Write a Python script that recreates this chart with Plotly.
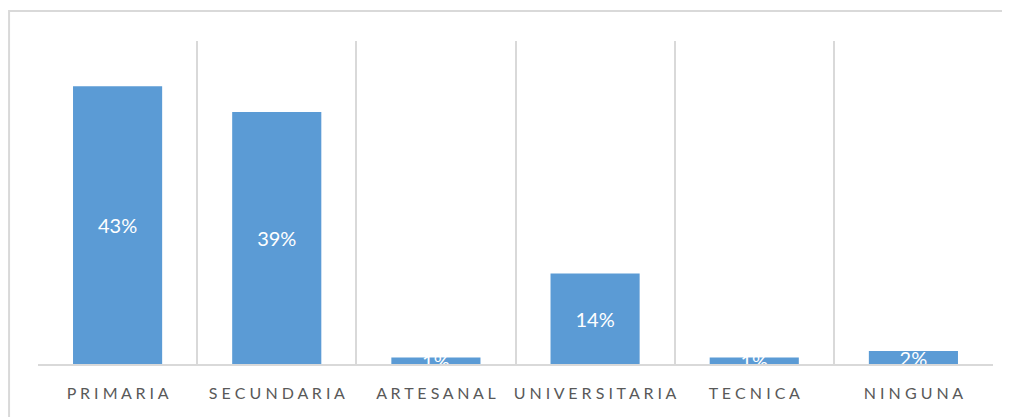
import plotly.graph_objects as go

categorias = ['PRIMARIA', 'SECUNDARIA', 'ARTESANAL', 'UNIVERSITARIA', 'TECNICA', 'NINGUNA']
porcentajes = [43, 39, 1, 14, 1, 2]
etiquetas = [f'{v}%' for v in porcentajes]
# etiquetas del eje con espaciado entre letras
ticks = [' '.join(list(c)) for c in categorias]

fig = go.Figure()

fig.add_trace(go.Bar(
    x=categorias,
    y=porcentajes,
    marker=dict(color='#5b9bd5', line=dict(width=0)),
    text=etiquetas,
    textposition='inside',
    insidetextanchor='middle',
    constraintext='none',
    textangle=0,
    textfont=dict(family='Lato, Open Sans, sans-serif', size=20, color='white'),
    cliponaxis=True,
    hoverinfo='x+y',
    showlegend=False
))

# Marco exterior del gráfico
fig.add_shape(
    type='rect', xref='paper', yref='paper',
    x0=-0.0303, x1=1.05, y0=-0.2, y1=1.0929,
    line=dict(color='#d9d9d9', width=2),
    fillcolor='rgba(0,0,0,0)', layer='below'
)

# la página deja 8 px de margen, se compensa en el tamaño
fig.update_layout(
    width=1002,
    height=409,
    margin=dict(l=30, r=17, t=33, b=53),
    paper_bgcolor='white',
    plot_bgcolor='white',
    bargap=0.44,
    xaxis=dict(
        type='category',
        tickmode='array',
        tickvals=categorias,
        ticktext=ticks,
        tickson='boundaries',
        tickangle=0,
        automargin=False,
        ticks='',
        ticklabelstandoff=14,
        showgrid=True,
        gridcolor='#d9d9d9',
        gridwidth=2,
        showline=True,
        linecolor='#d9d9d9',
        linewidth=2,
        tickfont=dict(family='Lato, Open Sans, sans-serif', size=16, color='#595959'),
        range=[-0.5, 5.5]
    ),
    yaxis=dict(
        range=[0, 50],
        showgrid=False,
        showticklabels=False,
        zeroline=False,
        automargin=False,
        ticks=''
    ),
)

fig.write_html('out.html')
